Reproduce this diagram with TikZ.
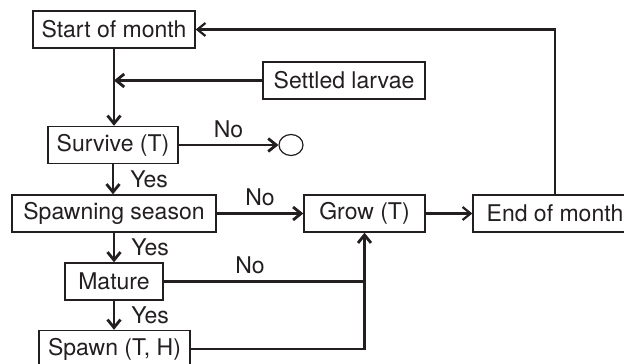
\documentclass[tikz,border=0pt]{standalone}
\usepackage{fontspec}
\setmainfont{TeX Gyre Heros}
\usetikzlibrary{arrows.meta,positioning,shapes.geometric}
\definecolor{CycInk}{RGB}{35,31,32}
\tikzset{
  cyc/box/.style={
    draw=CycInk,
    line width=0.7pt,
    fill=white,
    align=center,
    text=CycInk,
    minimum height=18.5pt,
    inner sep=0pt,
    font=\fontsize{11.5}{13}\selectfont
  },
  cyc/sink/.style={ellipse, draw=CycInk, line width=0.6pt, minimum width=12pt, minimum height=10.5pt, inner sep=0pt},
  cyc/arrow/.style={-{Straight Barb[length=4pt,width=6.5pt]}, line width=1.4pt, draw=CycInk},
  cyc/line/.style={line width=1.2pt, draw=CycInk},
  cyc/thinarrow/.style={-{Straight Barb[length=4pt,width=6.5pt]}, line width=1.1pt, draw=CycInk},
  cyc/yes/.style={font=\fontsize{11.5}{13}\selectfont, text=CycInk, anchor=west, inner sep=0pt, xshift=8pt},
  cyc/no/.style={font=\fontsize{11.5}{13}\selectfont, text=CycInk, anchor=south, inner sep=0pt, yshift=3pt}
}

\begin{document}
\begin{tikzpicture}[x=0.5pt,y=-0.5pt]
  \useasboundingbox (0,0) rectangle (624,363);
  \foreach \name/\txt/\x/\y/\w in {
    monthstart/Start of month/114/29.5/81,settled/Settled larvae/344/80.5/81,
    survive/Survive (T)/113/145/65,season/Spawning season/114/213.5/102,
    grow/Grow (T)/364.5/213.5/60.5,monthend/End of month/555/213.5/82,
    mature/Mature/114/281.5/49,spawn/{Spawn (T, H)}/114.5/349/75.5}
  {\node[cyc/box,minimum width=\w pt] (\name) at (\x,\y) {\txt};}
  \node[cyc/sink] (dead) at (291,145) {};

  \coordinate (join) at (monthstart.south |- settled.west);
  \draw[cyc/arrow] (monthstart.south) -- (monthstart.south |- survive.north);
  \draw[cyc/arrow] (settled) -- (join);
  \draw[cyc/arrow] (survive) -- node[cyc/no] {No} (dead);
  \draw[cyc/arrow] (survive.south) -- node[cyc/yes] {Yes} (survive.south |- season.north);
  \draw[cyc/arrow] (season) -- node[cyc/no] {No} (grow);
  \draw[cyc/arrow] (season.south) -- node[cyc/yes] {Yes} (season.south |- mature.north);
  \draw[cyc/line] (mature) -- node[cyc/no,pos=0.43] {No} (mature -| grow);
  \draw[cyc/arrow] (mature.south) -- node[cyc/yes] {Yes} (mature.south |- spawn.north);
  \draw[cyc/arrow] (spawn) -| (grow);
  \draw[cyc/thinarrow] (grow) -- (monthend);
  \draw[cyc/thinarrow] (monthend) |- (monthstart);
\end{tikzpicture}
\end{document}
